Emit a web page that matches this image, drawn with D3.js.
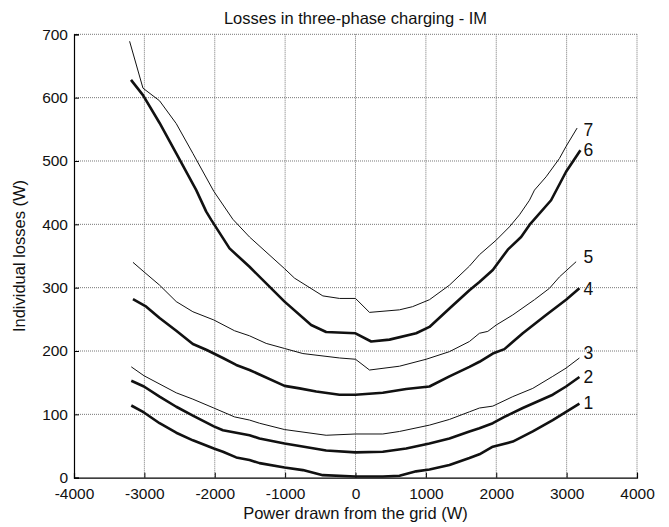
<!DOCTYPE html>
<html><head><meta charset="utf-8">
<script src="https://cdn.jsdelivr.net/npm/d3@7"></script>
<style>
body{margin:0;background:#fff;}
svg{display:block;font-family:"Liberation Sans",Arial,Helvetica,sans-serif;}
</style></head>
<body><div id="chart"></div>
<script>
const title = "Losses in three-phase charging - IM";
const xLabel = "Power drawn from the grid (W)";
const yLabel = "Individual losses (W)";
const xTicks = [-4000,-3000,-2000,-1000,0,1000,2000,3000,4000];
const yTicks = [0,100,200,300,400,500,600,700];

const loss1 = [[-3186,114],[-3006,103],[-2784,86],[-2547,71],[-2311,59],[-2013,46],[-1884,41],[-1695,32],[-1506,28],[-1364,23],[-1008,16],[-748,12],[-464,4],[0,2],[388,2],[625,3],[862,10],[1051,13],[1335,20],[1619,31],[1761,37],[1951,49],[2235,57],[2519,73],[2803,91],[2992,104],[3182,117]];
const loss2 = [[-3186,153],[-3006,144],[-2784,128],[-2547,112],[-2311,98],[-2013,81],[-1884,75],[-1695,71],[-1506,67],[-1364,62],[-1008,54],[-795,50],[-417,43],[0,40],[388,41],[720,46],[1051,54],[1335,62],[1619,73],[1761,78],[1951,86],[2116,96],[2377,110],[2803,131],[2992,144],[3182,159]];
const loss3 = [[-3186,175],[-3006,161],[-2547,134],[-2311,124],[-2013,110],[-1719,96],[-1506,91],[-1364,86],[-1008,76],[-417,67],[0,69],[388,69],[625,73],[1051,83],[1335,92],[1619,104],[1761,110],[1951,113],[2235,128],[2519,141],[2803,160],[2992,173],[3182,189]];
const loss4 = [[-3162,282],[-2973,270],[-2784,252],[-2547,232],[-2311,211],[-2121,202],[-1884,189],[-1695,178],[-1506,170],[-1364,163],[-1008,145],[-795,141],[-558,136],[-227,131],[0,131],[388,134],[720,140],[1051,144],[1335,160],[1619,175],[1761,183],[1951,196],[2116,203],[2377,228],[2708,257],[2992,281],[3182,299]];
const loss5 = [[-3162,340],[-3006,325],[-2784,304],[-2547,278],[-2311,262],[-2013,249],[-1719,232],[-1506,224],[-1269,212],[-1008,204],[-748,196],[-227,189],[0,187],[199,170],[625,176],[1004,187],[1335,199],[1619,215],[1761,228],[1880,231],[1999,241],[2235,257],[2543,281],[2756,299],[2898,317],[3135,341]];
const loss6 = [[-3190,628],[-3020,604],[-2784,560],[-2547,512],[-2263,454],[-2121,420],[-2050,407],[-1790,362],[-1506,333],[-1008,278],[-630,241],[-417,230],[0,228],[223,215],[483,218],[862,228],[1051,238],[1335,267],[1619,296],[1761,309],[1951,328],[2164,360],[2353,380],[2472,399],[2779,438],[2992,483],[3196,517]];
const loss7 = [[-3210,689],[-3020,615],[-2784,595],[-2547,559],[-2311,512],[-2013,452],[-1743,408],[-1506,380],[-1008,330],[-866,315],[-464,287],[-227,283],[0,283],[199,261],[625,265],[810,270],[1051,281],[1335,304],[1619,334],[1761,352],[1999,375],[2187,396],[2330,415],[2472,438],[2543,454],[2708,475],[2898,504],[2992,523],[3149,552]];

const seriesData = [loss1,loss2,loss3,loss4,loss5,loss6,loss7];
const seriesNames = ["1","2","3","4","5","6","7"];
const seriesThick = [true,true,false,true,false,true,false];
const labelX = 3240;
const labelY = [108,150,187,288,339,508,540];

const W = 669, H = 527;
const margin = {left:74, right:32, top:34.3, bottom:49.3};
const iw = W - margin.left - margin.right, ih = H - margin.top - margin.bottom;

const svg = d3.select("#chart").append("svg").attr("width",W).attr("height",H);
const g = svg.append("g").attr("transform",`translate(${margin.left},${margin.top})`);

const x = d3.scaleLinear().domain([-4000,4000]).range([0,iw]);
const y = d3.scaleLinear().domain([0,700]).range([ih,0]);

// grid
g.append("g").selectAll("line").data(xTicks.filter(t=>t>-4000)).join("line")
  .attr("x1",d=>x(d)).attr("x2",d=>x(d)).attr("y1",0).attr("y2",ih)
  .attr("stroke","#777").attr("stroke-width",1).attr("stroke-dasharray","1,1");
g.append("g").selectAll("line").data(yTicks.filter(t=>t>0)).join("line")
  .attr("x1",0).attr("x2",iw).attr("y1",d=>y(d)).attr("y2",d=>y(d))
  .attr("stroke","#777").attr("stroke-width",1).attr("stroke-dasharray","1,1");

// axes
const fmt = d => String(d);
const xAxis = g.append("g").attr("transform",`translate(0,${ih})`)
  .call(d3.axisBottom(x).tickValues(xTicks).tickSize(-5).tickPadding(10).tickFormat(fmt));
const yAxis = g.append("g")
  .call(d3.axisLeft(y).tickValues(yTicks).tickSize(-5).tickPadding(6).tickFormat(fmt));
[xAxis,yAxis].forEach(a=>{
  a.select(".domain").attr("stroke","#000").attr("stroke-width",1.2);
  a.selectAll(".tick line").attr("stroke","#000");
  a.selectAll(".tick text").attr("fill","#111").style("font-size","15.5px").style("font-family","'Liberation Sans',Arial,sans-serif");
});
xAxis.selectAll(".tick text").attr("dy","0.71em");

// lines
const line = d3.line().x(d=>x(d[0])).y(d=>y(d[1]));
g.append("g").selectAll("path").data(seriesData).join("path")
  .attr("d",line).attr("fill","none").attr("stroke","#111")
  .attr("stroke-width",(d,i)=>seriesThick[i]?2.6:1)
  .attr("stroke-linejoin","round");

// labels
g.append("g").selectAll("text").data(seriesNames).join("text")
  .attr("x",x(labelX)).attr("y",(d,i)=>y(labelY[i]))
  .text(d=>d).attr("fill","#111").style("font-size","17.5px");

// titles
svg.append("text").attr("x",margin.left+iw/2).attr("y",24).attr("text-anchor","middle")
  .style("font-size","16.5px").attr("fill","#111").text(title);
svg.append("text").attr("x",margin.left+iw/2).attr("y",519).attr("text-anchor","middle")
  .style("font-size","16.5px").attr("fill","#111").text(xLabel);
svg.append("text").attr("transform",`translate(25,256) rotate(-90)`).attr("text-anchor","middle")
  .style("font-size","16.5px").attr("fill","#111").text(yLabel);
</script></body></html>
